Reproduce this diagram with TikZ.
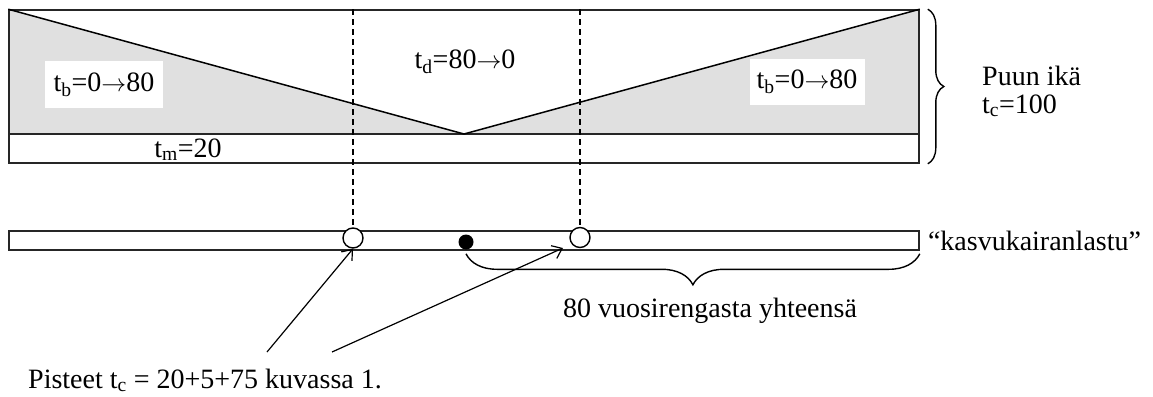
\documentclass[tikz,border=0pt]{standalone}
\usepackage{fontspec}
\setmainfont{Liberation Serif}
\usepackage{tikz}
\usetikzlibrary{arrows.meta,positioning,decorations.pathreplacing,backgrounds}
\tikzset{
  frame/.style={draw=black!85, line width=1.6pt, inner sep=0pt},
  stipple/.style={fill=black!12},
  slope/.style={line width=1.5pt},
  guide/.style={dash pattern=on 6pt off 4pt, line width=1.3pt},
  ring/.style={circle, draw, line width=1.4pt, fill=white, inner sep=0pt, minimum size=20pt},
  pith/.style={circle, fill=black, inner sep=0pt, minimum size=15pt},
  ptr/.style={-{Straight Barb[length=9pt,width=14pt]}, line width=1.2pt},
  cbrace/.style={decorate, decoration={brace, amplitude=#1}, line width=1.4pt},
  lbl/.style={font=\fontsize{28}{30}\selectfont, inner sep=0pt},
  tag/.style={lbl, fill=white, minimum width=#1, minimum height=46pt},
}
\newcommand{\goes}{$\rightarrow$}

\begin{document}
\begin{tikzpicture}[x=1pt, y=-1pt]
\useasboundingbox (0,0) rectangle (1153,396);
% ---- stem section: dead core between two living sides
\node[frame, minimum width=910pt, minimum height=153pt] (trunk) at (464,86.5) {};
\coordinate (vtx) at (464,134);
\begin{scope}[on background layer]
  \fill[stipple] (trunk.north west) -- (vtx) -- (trunk.west |- vtx) -- cycle;
  \fill[stipple] (trunk.north east) -- (vtx) -- (trunk.east |- vtx) -- cycle;
\end{scope}
\node[tag=118pt] (tbl) at (104,84.5) {t\textsubscript{b}=0\goes80};
\node[tag=115pt] (tbr) at (807,82) {t\textsubscript{b}=0\goes80};
\node[lbl, anchor=base] (td) at (465,68) {t\textsubscript{d}=80\goes0};
\node[lbl, anchor=base] (tm) at (188,157) {t\textsubscript{m}=20};
\draw[frame] (trunk.west |- vtx) -- (trunk.east |- vtx);
\draw[slope] (trunk.north west) -- (vtx) -- (trunk.north east);
\draw[cbrace=16pt] ([xshift=8pt]trunk.north east) -- ([xshift=8pt]trunk.south east);
\node[lbl, anchor=base west] (age) at (982,85) {Puun ikä};
\node[lbl, anchor=base west] (agetc) at (982,113) {t\textsubscript{c}=100};
% ---- core sample strip
\node[frame, minimum width=910pt, minimum height=19pt] (strip) at (464,240.5) {};
\node[lbl, anchor=base west] (core) at ([xshift=8pt]strip.south east) {“kasvukairanlastu”};
\node[ring] (ring1) at (353,238) {};
\node[ring] (ring2) at (580,237.5) {};
\node[pith] (pith) at (466,242) {};
\foreach \r in {ring1, ring2}
  \draw[guide] (\r |- trunk.north) -- (\r.north);
\coordinate (rb) at (pith |- strip.south);
\draw[cbrace=31pt] ([yshift=-3pt]strip.south east) -- ([yshift=-3pt]rb);
\node[lbl, anchor=base] (yrs) at (710,317) {80 vuosirengasta yhteensä};
% ---- pointers from the note
\node[lbl, anchor=base west] (note) at (28,388) {Pisteet t\textsubscript{c} = 20+5+75 kuvassa 1.};
\coordinate (p1) at (267,352);
\coordinate (p2) at (332,352);
\coordinate (hit2) at (563,248);
\draw[ptr] (p1) -- (ring1.south);
\draw[ptr] (p2) -- (hit2);
\end{tikzpicture}
\end{document}
